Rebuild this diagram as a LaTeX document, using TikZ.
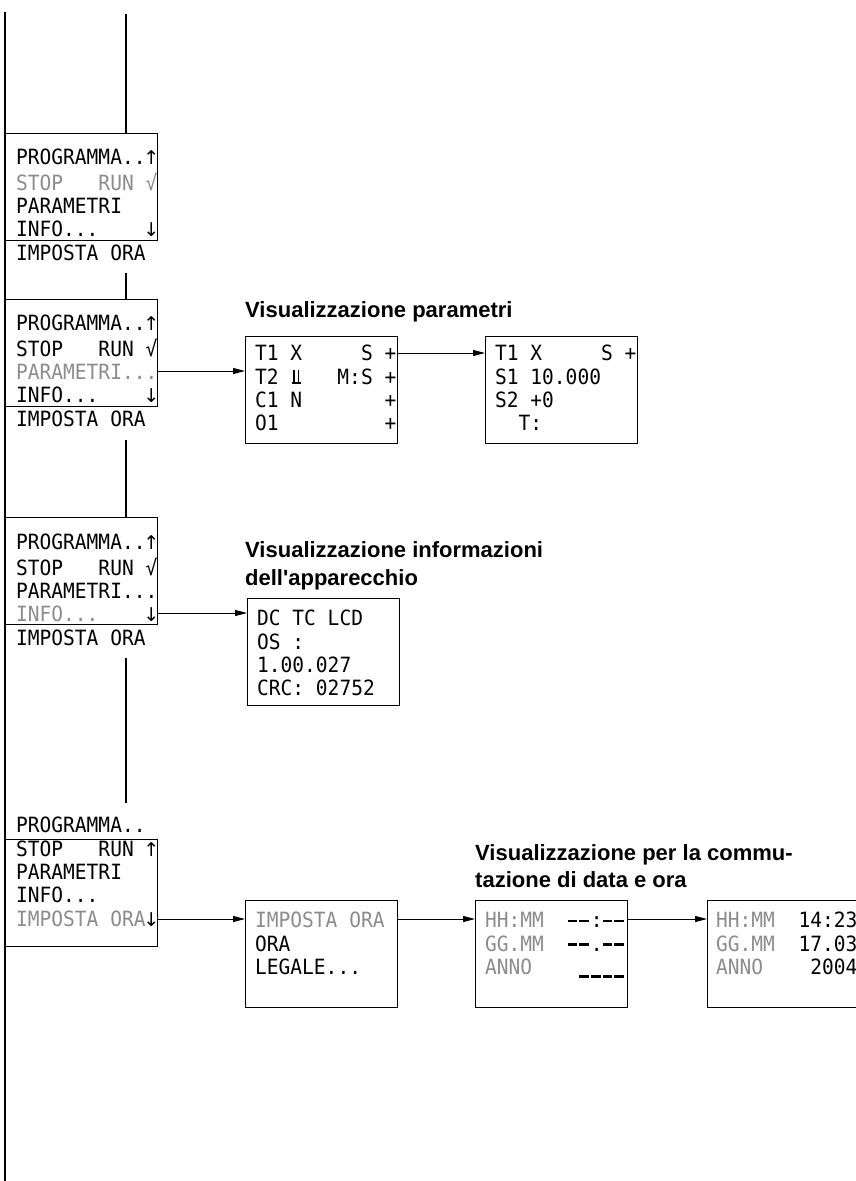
\documentclass[tikz,border=0pt]{standalone}
\usepackage{fontspec}
\setmainfont{Liberation Sans}
\newfontfamily\lcd[FakeStretch=0.93]{DejaVu Sans Mono}
\newfontfamily\djv{DejaVu Sans}
\usetikzlibrary{arrows.meta}

\definecolor{lcdgrau}{gray}{0.55}
\newcommand{\lcdschrift}{\fontsize{21}{23.3}\selectfont\lcd\frenchspacing}
\newcommand{\titelschrift}{\fontsize{22}{27.5}\selectfont\bfseries}
\newcommand{\strich}{\rule[5.5pt]{9.5pt}{2.6pt}\hspace{2.24pt}}
\newcommand{\balken}{\rule[-3.5pt]{9.5pt}{2.6pt}\hspace{2.24pt}}
\newcommand{\su}{\makebox[11.74pt]{\djv\fontsize{19}{23.3}\selectfont ↑}}
\newcommand{\giu}{\makebox[11.74pt]{\djv\fontsize{19}{23.3}\selectfont ↓}}
\newcommand{\tack}{\makebox[11.74pt][c]{\rule{9pt}{1.8pt}\hspace{-7.5pt}\rule{1.7pt}{14pt}\hspace{2.6pt}\rule{1.7pt}{14pt}\hspace{1.5pt}}}

\begin{document}
\begin{tikzpicture}[
            x=1pt, y=-1pt,
            schermo/.style={draw, line width=1.4pt, minimum width=152pt, minimum height=107pt, inner sep=0pt, anchor=north west},
            testo/.style={anchor=north west, inner sep=0pt, align=left, font=\lcdschrift},
            titolo/.style={anchor=west, inner sep=0pt, align=left, font=\titelschrift},
            linea/.style={line width=1.4pt},
            freccia/.style={-{Triangle[length=12pt,width=6pt]}, line width=1pt},
        ]
        \useasboundingbox (0,0) rectangle (855,1181);

        % menu
        \node[schermo] (m1) at (5,133) {};
        \node[schermo] (m2) at (5,299) {};
        \node[schermo] (m3) at (5,517) {};
        \node[schermo] (m4) at (5,839) {};
        \node[testo] (tm1) at (16,148.3) {\strut PROGRAMMA..\su\\{\color{lcdgrau}STOP~~~RUN~√}\\PARAMETRI\\INFO...~~~~\giu\\IMPOSTA~ORA};
        \node[testo] (tm2) at (16,314.3) {\strut PROGRAMMA..\su\\STOP~~~RUN~√\\{\color{lcdgrau}PARAMETRI...}\\INFO...~~~~\giu\\IMPOSTA~ORA};
        \node[testo] (tm3) at (16,533.3) {\strut PROGRAMMA..\su\\STOP~~~RUN~√\\PARAMETRI...\\{\color{lcdgrau}INFO...}~~~~\giu\\IMPOSTA~ORA};
        \node[testo] (tm4) at (16,816.3) {\strut PROGRAMMA..\\STOP~~~RUN~\su\\PARAMETRI\\INFO...\\{\color{lcdgrau}IMPOSTA~ORA}\giu};

        % visualizzazioni
        \node[titolo] (tit1) at (245,312) {Visualizzazione parametri};
        \node[titolo] (tit2) at (245,566) {Visualizzazione informazioni\\dell\textquotesingle apparecchio};
        \node[titolo] (tit3) at (475,866) {Visualizzazione per la commu-\\tazione di data e ora};

        \node[schermo] (p1) at (245,336) {};
        \node[schermo] (p2) at (485,336) {};
        \node[schermo] (i1) at (247,598) {};
        \node[schermo] (o1) at (245,900) {};
        \node[schermo] (o2) at (475,900) {};
        \node[schermo] (o3) at (707,900) {};
        \node[testo] (tp1) at (255,344.3) {\strut T1~X~~~~~S~+\\T2~\tack~~~M:S~+\\C1~N~~~~~~~+\\O1~~~~~~~~~+};
        \node[testo] (tp2) at (495,344.3) {\strut T1~X~~~~~S~+\\S1~10.000\\S2~+0\\~~T:};
        \node[testo] (ti1) at (257,609.3) {\strut DC~TC~LCD\\OS~:\\1.00.027\\CRC:~02752};
        \node[testo] (to1) at (255,911.3) {\strut{\color{lcdgrau}IMPOSTA~ORA}\\ORA\\LEGALE...};
        \node[testo] (to2) at (485,911.3) {\strut{\color{lcdgrau}HH:MM}~~\strich\strich:\strich\strich\\{\color{lcdgrau}GG.MM}~~\strich\strich.\strich\strich\\{\color{lcdgrau}ANNO}~~~~\balken\balken\balken\balken};
        \node[testo] (to3) at (716,911.3) {\strut{\color{lcdgrau}HH:MM}~~14:23\\{\color{lcdgrau}GG.MM}~~17.03\\{\color{lcdgrau}ANNO}~~~~2004};

        % collegamenti
        \coordinate (s0) at (5,12);
        \coordinate (s1) at (5,1181);
        \coordinate (c0) at (126,14);
        \coordinate (c1) at (126,273);
        \coordinate (c2) at (126,440);
        \coordinate (c3) at (126,658);
        \coordinate (c4) at (126,803);
        \coordinate (y1) at (0,371);
        \coordinate (y2) at (0,353);
        \coordinate (y3) at (0,613);
        \coordinate (y4) at (0,919);

        \draw[linea] (s0) -- (s1);
        \draw[linea] (c0) -- (c0 |- m1.north);
        \draw[linea] (c1) -- (c1 |- m2.north);
        \draw[linea] (c2) -- (c2 |- m3.north);
        \draw[linea] (c3) -- (c4);

        \draw[freccia] (m2.east |- y1) -- (p1.west |- y1);
        \draw[freccia] (p1.east |- y2) -- (p2.west |- y2);
        \draw[freccia] (m3.east |- y3) -- (i1.west |- y3);
        \draw[freccia] (m4.east |- y4) -- (o1.west |- y4);
        \draw[freccia] (o1.east |- y4) -- (o2.west |- y4);
        \draw[freccia] (o2.east |- y4) -- (o3.west |- y4);

    \end{tikzpicture}
\end{document}
